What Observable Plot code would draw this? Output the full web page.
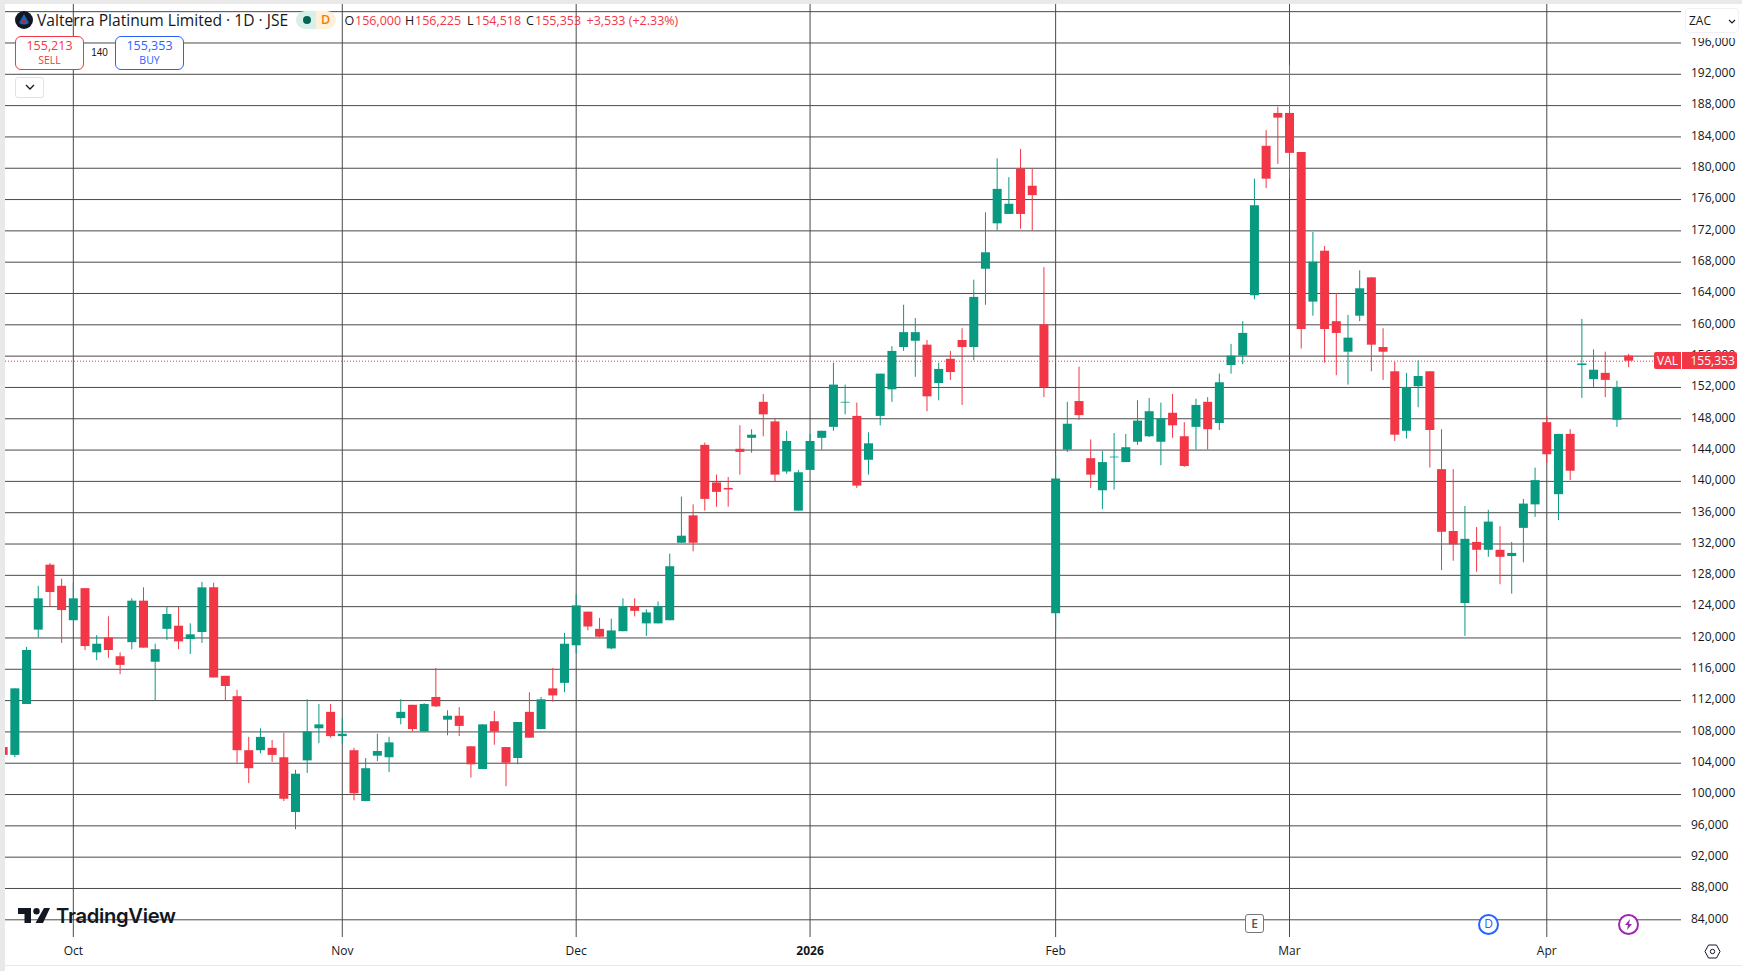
<!DOCTYPE html>
<html>
<head>
<meta charset="utf-8">
<script src="https://cdn.jsdelivr.net/npm/d3@7"></script>
<script src="https://cdn.jsdelivr.net/npm/@observablehq/plot@0.6"></script>
<style>
html,body{margin:0;padding:0;background:#fff;width:1742px;height:971px;overflow:hidden}
#stage{position:relative;width:1742px;height:971px;background:#fff;overflow:hidden;font-family:"Open Sans",sans-serif;color:#131722}
#chart{position:absolute;left:0;top:0}
#chart svg{display:block}
.ov{position:absolute;white-space:nowrap;line-height:1}
.box{position:absolute;box-sizing:border-box;background:#fff}
.red{color:#F23645}
</style>
</head>
<body>
<div id="stage">
  <div id="chart"></div>

  <div class="box" style="left:0;top:0;width:1742px;height:4px;background:#e9e9e9"></div>
  <div class="box" style="left:0;top:0;width:5px;height:971px;background:#e9e9e9"></div>
  <div class="box" style="left:0;top:965px;width:1742px;height:1px;background:#e9e9e9"></div>

  <svg class="ov" style="left:15px;top:11px" width="18" height="18" viewBox="0 0 18 18">
    <circle cx="9" cy="9" r="9" fill="#131722"/>
    <path d="M9 3 L14 12 Q9 15 4 12 Z" fill="#1565c0"/>
    <circle cx="9" cy="10" r="2" fill="#b0302c"/>
  </svg>
  <div class="ov" id="title" style="left:37px;top:13px;font-size:15.6px">Valterra Platinum Limited · 1D · JSE</div>
  <div class="box" style="left:296px;top:11px;width:20px;height:18px;background:#d9efe9;border-radius:9px 0 0 9px"></div>
  <div class="box" style="left:316px;top:11px;width:20px;height:18px;background:#fff0db;border-radius:0 9px 9px 0"></div>
  <div class="box" style="left:303px;top:16px;width:8px;height:8px;border-radius:50%;background:#056656"></div>
  <div class="ov" style="left:321px;top:14px;font-size:12.5px;font-weight:600;color:#f57c00">D</div>

  <div class="ov ohlc" style="left:344.5px;top:15px;font-size:12.5px">O</div>
  <div class="ov ohlc red" style="left:355px;top:15px;font-size:12.5px">156,000</div>
  <div class="ov ohlc" style="left:405px;top:15px;font-size:12.5px">H</div>
  <div class="ov ohlc red" style="left:415px;top:15px;font-size:12.5px">156,225</div>
  <div class="ov ohlc" style="left:467px;top:15px;font-size:12.5px">L</div>
  <div class="ov ohlc red" style="left:475px;top:15px;font-size:12.5px">154,518</div>
  <div class="ov ohlc" style="left:526px;top:15px;font-size:12.5px">C</div>
  <div class="ov ohlc red" style="left:535px;top:15px;font-size:12.5px">155,353</div>
  <div class="ov ohlc red" style="left:586.5px;top:15px;font-size:12.5px">+3,533 (+2.33%)</div>

  <div class="box" style="left:15px;top:36px;width:69px;height:34px;border:1px solid #F23645;border-radius:6px"></div>
  <div class="ov red" style="left:15px;width:69px;text-align:center;top:39.5px;font-size:12.5px">155,213</div>
  <div class="ov red" style="left:15px;width:69px;text-align:center;top:54.5px;font-size:10.5px">SELL</div>
  <div class="ov" style="left:84px;width:31px;text-align:center;top:47.5px;font-size:10px;font-family:'Liberation Sans'">140</div>
  <div class="box" style="left:115px;top:36px;width:69px;height:34px;border:1px solid #2962FF;border-radius:6px"></div>
  <div class="ov" style="left:115px;width:69px;text-align:center;top:39.5px;font-size:12.5px;color:#2962FF">155,353</div>
  <div class="ov" style="left:115px;width:69px;text-align:center;top:54.5px;font-size:10.5px;color:#2962FF">BUY</div>

  <div class="box" style="left:15px;top:77px;width:29px;height:21px;border:1px solid #e0e3eb;border-radius:3px"></div>
  <svg class="ov" style="left:25px;top:84px" width="10" height="6" viewBox="0 0 10 6"><path d="M1 1 L5 5 L9 1" fill="none" stroke="#131722" stroke-width="1.3"/></svg>

  <div class="box" style="left:1682px;top:4px;width:60px;height:33.5px;background:#fff"></div>
  <div class="box" style="left:1685px;top:8px;width:54px;height:25px;border:1px solid #eef0f3;border-radius:4px"></div>
  <div class="ov" style="left:1689px;top:15px;font-size:12px">ZAC</div>
  <svg class="ov" style="left:1728px;top:19px" width="8" height="5" viewBox="0 0 8 5"><path d="M1 1 L4 4 L7 1" fill="none" stroke="#131722" stroke-width="1.1"/></svg>

  <div class="box" style="left:1654px;top:352px;width:27px;height:17px;background:#F23645;border-radius:2px 0 0 2px"></div>
  <div class="ov" style="left:1654px;width:27px;text-align:center;top:354.5px;font-size:12px;color:#fff">VAL</div>
  <div class="box" style="left:1682px;top:352px;width:55px;height:17px;background:#F23645;border-radius:0 2px 2px 0"></div>
  <div class="ov" style="left:1690.5px;top:354.5px;font-size:12px;color:#fff">155,353</div>

  <svg class="ov" style="left:18px;top:908px" width="32" height="16" viewBox="0 0 32 16">
    <path d="M0 0 H13 V15 H6.5 V6 H0 Z M26 0 H32 L25 15 H17.5 Z" fill="#131722"/>
    <circle cx="18.5" cy="3.2" r="3.2" fill="#131722"/>
  </svg>
  <div class="ov" id="brand" style="left:56px;top:906px;font-size:20.2px;font-weight:600;font-family:Inter,sans-serif;letter-spacing:-0.3px">TradingView</div>

  <div class="box" style="left:1245px;top:914px;width:19px;height:19px;border:1.5px solid #777;border-radius:3px"></div>
  <div class="ov" style="left:1245px;width:19px;text-align:center;top:917.5px;font-size:12px;color:#555;font-weight:600">E</div>
  <div class="box" style="left:1478px;top:914px;width:21px;height:21px;border:2px solid #2962FF;border-radius:50%"></div>
  <div class="ov" style="left:1478px;width:21px;text-align:center;top:918px;font-size:12px;color:#2962FF">D</div>
  <div class="box" style="left:1618px;top:914px;width:21px;height:21px;border:2px solid #9C27B0;border-radius:50%"></div>
  <svg class="ov" style="left:1622px;top:918px" width="13" height="13" viewBox="0 0 13 13"><path d="M8 1 L3 7 H6 L5 12 L10 6 H7 Z" fill="#9C27B0"/></svg>
  <svg class="ov" style="left:1704px;top:944px" width="17" height="15" viewBox="0 0 17 15"><path d="M4.5 1 H12.5 L16 7.5 L12.5 14 H4.5 L1 7.5 Z" fill="none" stroke="#131722" stroke-width="1"/><circle cx="8.5" cy="7.5" r="2.2" fill="none" stroke="#131722" stroke-width="1"/></svg>
</div>

<script>
// Daily candles, in chart order; reading order is oldest first.
const opens = [
106000,105000,111500,121000,129300,126600,122200,126300,118100,120000,
117600,119400,124700,116900,121100,121500,119800,120700,126400,115100,
112500,105600,105600,105900,104700,97700,104300,108400,110500,107400,
105600,99100,104900,104700,109700,111400,108000,112400,109500,110000,
106100,103200,109300,106000,104600,110500,108300,113500,114200,119000,
123300,121100,118600,120800,124000,121800,121800,122200,132100,135600,
144600,139800,139100,144100,145500,150100,147600,141200,136200,141400,
145500,146900,150000,148300,142700,148300,151700,157100,157900,157400,
152500,155600,158000,157100,167100,172900,174100,179900,177700,160000,
123100,144000,150200,142900,138800,143000,142400,145000,145700,145000,
148700,145700,146900,150100,147400,154800,156000,163700,182800,187000,
187000,182000,162900,169400,160400,156500,161100,166000,157100,154000,
146400,152100,154000,141500,133600,124400,132200,131200,131200,130400,
134000,137000,147500,138300,146000,154800,153000,153800,147800,156000];
const highs = [
106000,113500,118800,126600,129500,127500,127000,126300,120300,122700,
118100,125000,126400,119200,123900,123900,121800,127100,127000,115100,
113300,107300,108400,106900,107800,103100,112100,111500,111500,109700,
105900,104600,107700,107300,112100,111400,111600,116100,110700,111100,
106100,108900,110600,106000,109200,113000,112400,116100,120600,125500,
123300,122500,122400,125000,125000,123600,124600,130700,138000,137000,
144900,140800,140500,147100,146600,151100,148000,146400,141400,146000,
146400,155100,152300,150000,146200,153700,157200,162500,160800,158000,
155100,156600,159500,165700,174300,181200,178800,182400,179900,167300,
143200,150100,154600,145300,143800,146100,146000,150300,150600,150000,
151100,147500,150500,150700,153700,157500,160400,178600,184800,187800,
193100,182000,171800,170000,164000,161200,166900,166000,159500,155200,
153800,155400,154000,146600,141500,136800,134100,136300,134200,132200,
137700,141700,148300,146000,146600,160700,156800,156500,152800,156225];
const lows = [
105000,104700,111500,120000,124000,119300,122200,118400,117100,117400,
115300,118500,118700,112000,119700,118500,117900,119300,114900,111900,
104000,101400,105200,104100,99100,95500,102700,106500,107200,106400,
99200,99100,104200,102800,108900,108000,108000,111100,107500,107400,
102100,103200,106300,101000,103800,107200,108300,111800,113000,118000,
120900,120000,118500,120800,122700,120200,121800,122200,132100,131000,
136200,136700,136700,140800,143600,145700,139900,140900,136200,141400,
144000,146400,148500,139100,140800,147100,150100,156600,153300,148900,
150300,152900,149700,155400,162500,172000,174100,172200,172000,150700,
120800,143700,147800,139100,136400,138900,142400,144600,145600,142000,
145500,141800,144000,144000,146500,153700,154900,163200,177400,180500,
178600,156900,161100,155100,153500,152300,160400,154000,152900,145100,
145400,149400,141700,128600,129800,120200,128400,130300,126800,125600,
129600,135400,142300,135000,140100,150600,152000,150700,146900,154518];
const closes = [
105000,113500,118400,125000,125800,123500,125000,118900,119200,118400,
116500,124700,118700,118500,123000,119500,120400,126400,114900,113800,
105600,103300,107300,105000,99400,102600,108000,108900,107400,107700,
100100,103300,105500,106600,110500,108300,111500,111200,110000,108700,
103800,108900,108000,104000,109200,107200,112100,112600,119200,124100,
121400,120100,120900,124000,123400,123200,124000,129100,133000,132100,
137700,138600,138900,143700,145900,148500,140800,145100,141100,145100,
146400,152300,150100,139400,144800,153700,156600,159000,159000,150800,
154300,153900,157100,163500,169200,177300,175400,174100,176500,152000,
140300,147300,148400,140800,142400,143100,144300,147700,148900,148000,
147100,141900,149700,146600,152600,156000,158900,175200,178600,186400,
181900,159400,168000,159400,158900,158300,164600,157400,156500,145900,
152000,153400,146500,133500,131900,132600,131200,134800,130300,130800,
137100,140100,143400,146000,141300,155000,154200,152900,152000,155353];

const monthPositions = [6, 29, 49, 90, 110, 132];
const monthNames = ["Oct", "Nov", "Dec", "Feb", "Mar", "Apr"];
const yearPosition = 69;
const yearName = "2026";
const priceLabels = [84000,88000,92000,96000,100000,104000,108000,112000,116000,120000,124000,128000,132000,136000,140000,144000,148000,152000,156000,160000,164000,168000,172000,176000,180000,184000,188000,192000,196000];
const gridPrices = [...priceLabels, 200000];
const lastPrice = 155353;

const UP = "#089981", DOWN = "#F23645", GRID = "#4a4a4a", FONT = '"Open Sans", sans-serif';
const candles = opens.map((o, k) => ({
  k, open: o, high: highs[k], low: lows[k], close: closes[k],
  dir: closes[k] >= o ? "up" : "down"
}));
const nameAt = new Map(monthPositions.map((p, n) => [p, monthNames[n]]));

const plot = Plot.plot({
  width: 1742, height: 971,
  marginLeft: 5, marginRight: 61, marginTop: 4, marginBottom: 34,
  style: {background: "transparent", fontFamily: FONT},
  x: {type: "linear", domain: [0.2, 143.52]},
  y: {type: "linear", domain: [81739, 200915]},
  color: {domain: ["up", "down"], range: [UP, DOWN]},
  marks: [
    Plot.ruleY(gridPrices, {stroke: GRID, strokeWidth: 1}),
    Plot.ruleX([...monthPositions, yearPosition], {stroke: GRID, strokeWidth: 1}),
    Plot.ruleX(candles, {x: "k", y1: "low", y2: "high", stroke: "dir", strokeWidth: 1}),
    Plot.ruleX(candles, {x: "k", y1: "open", y2: "close", stroke: "dir", strokeWidth: 9}),
    Plot.ruleY([lastPrice], {stroke: DOWN, strokeWidth: 1, strokeDasharray: "1 2"}),
    Plot.axisY({anchor: "right", ticks: priceLabels, tickSize: 0, tickPadding: 9.5, dy: -1,
      tickFormat: d3.format(","), label: null, fontSize: 12, fill: "#131722"}),
    Plot.axisX({anchor: "bottom", ticks: monthPositions, tickSize: 0, tickPadding: 9,
      tickFormat: (d) => nameAt.get(d), label: null, fontSize: 12, fill: "#131722"}),
    Plot.axisX({anchor: "bottom", ticks: [yearPosition], tickSize: 0, tickPadding: 9,
      tickFormat: () => yearName, label: null, fontSize: 12, fontWeight: 700, fill: "#131722"})
  ]
});
document.getElementById("chart").appendChild(plot);
</script>
</body>
</html>
